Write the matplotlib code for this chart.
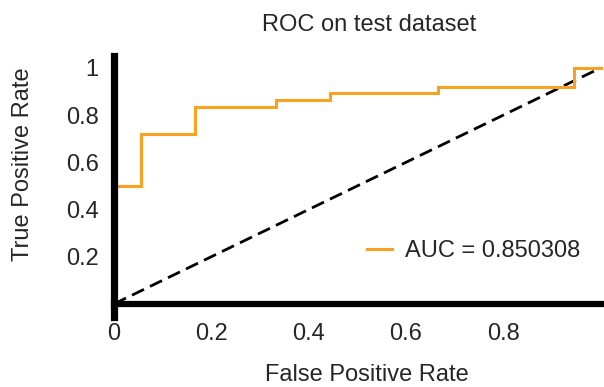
import matplotlib
matplotlib.use("Agg")
import matplotlib.pyplot as plt

plt.rcParams['font.family'] = ['Liberation Sans', 'DejaVu Sans']

# ROC curve points (step function)
fpr = [0.0, 0.0556, 0.0556, 0.1667, 0.1667, 0.3333, 0.3333, 0.4444, 0.4444,
       0.6667, 0.6667, 0.9444, 0.9444, 1.0]
tpr = [0.50, 0.50, 0.72, 0.72, 0.833, 0.833, 0.864, 0.864, 0.894,
       0.894, 0.918, 0.918, 1.0, 1.0]
auc_value = 0.850308

chance_x = [0.0, 1.0]
chance_y = [0.0, 1.0]

xticks = [0, 0.2, 0.4, 0.6, 0.8]
xtick_labels = ["0", "0.2", "0.4", "0.6", "0.8"]
yticks = [0.2, 0.4, 0.6, 0.8, 1.0]
ytick_labels = ["0.2", "0.4", "0.6", "0.8", "1"]

text_color = "#262626"
orange = "#F8A21F"
fs = 17

fig = plt.figure(figsize=(6.04, 3.87), dpi=100)
ax = fig.add_axes([114 / 604, 70 / 387, 511 / 604, 261 / 387])

ax.plot(fpr, tpr, color=orange, lw=2.2, label=f"AUC = {auc_value}",
        solid_joinstyle="miter", zorder=3)
ax.plot(chance_x, chance_y, color="black", lw=2.0, ls=(0, (4.8, 2.4)), zorder=2)

ax.set_xlim(0, 1.05)
ax.set_ylim(-0.0555, 1.0504)

for side in ("top", "right"):
    ax.spines[side].set_visible(False)
ax.spines["left"].set_linewidth(5.2)
ax.spines["bottom"].set_linewidth(4.5)
ax.spines["bottom"].set_position(("data", 0))
ax.spines["left"].set_zorder(4)

ax.set_xticks(xticks)
ax.set_xticklabels(xtick_labels)
ax.set_yticks(yticks)
ax.set_yticklabels(ytick_labels)
ax.tick_params(axis="x", length=0, pad=14, labelsize=fs, labelcolor=text_color)
ax.tick_params(axis="y", length=0, pad=11, labelsize=fs, labelcolor=text_color)

fig.text(369 / 604, 1 - 25 / 387, "ROC on test dataset", ha="center", va="center",
         fontsize=fs, color=text_color)
fig.text(367 / 604, 1 - 375 / 387, "False Positive Rate", ha="center", va="center",
         fontsize=fs, color=text_color)
fig.text(23 / 604, 1 - 164 / 387, "True Positive Rate", ha="center", va="center",
         rotation=90, fontsize=fs, color=text_color)

ax.legend(loc="center left", bbox_to_anchor=(367 / 604, 1 - 251 / 387),
          bbox_transform=fig.transFigure, frameon=False, fontsize=fs,
          borderaxespad=0, borderpad=0, handlelength=1.05, handletextpad=0.58,
          labelcolor=text_color)

fig.savefig("out.png", dpi=100)
